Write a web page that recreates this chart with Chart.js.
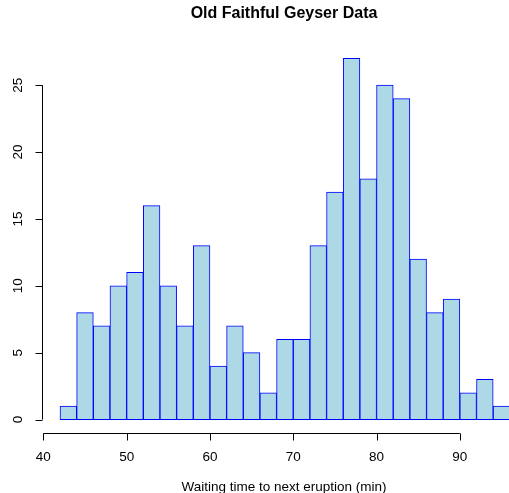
<!DOCTYPE html>
<html>
<head>
<meta charset="utf-8">
<script src="https://cdn.jsdelivr.net/npm/chart.js@4.4.1/dist/chart.umd.min.js"></script>
<style>
  html, body { margin: 0; padding: 0; background: #fff; }
  canvas { display: block; }
</style>
</head>
<body>
<canvas id="hist" width="509" height="493"></canvas>
<script>
// histogram bins (left edges, width 2) and counts
const binStarts = [42, 44, 46, 48, 50, 52, 54, 56, 58, 60, 62, 64, 66, 68, 70, 72, 74, 76, 78, 80, 82, 84, 86, 88, 90, 92, 94];
const counts = [1, 8, 7, 10, 11, 16, 10, 7, 13, 4, 7, 5, 2, 6, 6, 13, 17, 27, 18, 25, 24, 12, 8, 9, 2, 3, 1];
const binWidth = 2;
const xTicks = [40, 50, 60, 70, 80, 90];
const yTicks = [0, 5, 10, 15, 20, 25];
const chartTitle = 'Old Faithful Geyser Data';
const xTitle = 'Waiting time to next eruption (min)';

const FONT = '"Liberation Sans", Arial, Helvetica, sans-serif';

// R-style detached axes, drawn from the chart's own scales
const rAxes = {
  id: 'rAxes',
  afterDraw(chart) {
    const ctx = chart.ctx;
    const xs = chart.scales.x;
    const ys = chart.scales.y;
    const area = chart.chartArea;
    ctx.save();
    ctx.strokeStyle = '#000';
    ctx.fillStyle = '#000';
    ctx.lineWidth = 1;

    // x axis
    const xAxisY = Math.round(area.bottom) - 0.5;
    ctx.beginPath();
    ctx.moveTo(xs.getPixelForValue(xTicks[0]), xAxisY);
    ctx.lineTo(xs.getPixelForValue(xTicks[xTicks.length - 1]), xAxisY);
    xTicks.forEach(v => {
      const px = Math.round(xs.getPixelForValue(v)) + 0.5;
      ctx.moveTo(px, xAxisY);
      ctx.lineTo(px, xAxisY + 7);
    });
    ctx.stroke();
    ctx.font = '13.5px ' + FONT;
    ctx.textAlign = 'center';
    ctx.textBaseline = 'middle';
    xTicks.forEach(v => {
      ctx.fillText(String(v), xs.getPixelForValue(v), xAxisY + 24);
    });

    // y axis
    const yAxisX = Math.round(area.left) + 0.5;
    ctx.beginPath();
    ctx.moveTo(yAxisX, ys.getPixelForValue(yTicks[0]));
    ctx.lineTo(yAxisX, ys.getPixelForValue(yTicks[yTicks.length - 1]));
    yTicks.forEach(v => {
      const py = Math.round(ys.getPixelForValue(v)) + 0.5;
      ctx.moveTo(yAxisX, py);
      ctx.lineTo(yAxisX - 7, py);
    });
    ctx.stroke();
    yTicks.forEach(v => {
      ctx.save();
      ctx.translate(yAxisX - 24, ys.getPixelForValue(v));
      ctx.rotate(-Math.PI / 2);
      ctx.fillText(String(v), 0, 0);
      ctx.restore();
    });

    // titles
    ctx.fillText(xTitle, 284, 487);
    ctx.font = 'bold 16px ' + FONT;
    ctx.fillText(chartTitle, 284, 14);
    ctx.restore();
  }
};

new Chart(document.getElementById('hist'), {
  type: 'bar',
  data: {
    datasets: [{
      data: binStarts.map((s, i) => ({ x: s + binWidth / 2, y: counts[i] })),
      backgroundColor: '#ADD8E6',
      borderColor: '#0000FF',
      borderWidth: 1,
      borderSkipped: false,
      barPercentage: 1,
      categoryPercentage: 1
    }]
  },
  options: {
    responsive: false,
    animation: false,
    layout: { padding: { left: 42, right: 0, top: 44, bottom: 59 } },
    plugins: {
      legend: { display: false },
      tooltip: { enabled: false },
      title: { display: false }
    },
    scales: {
      x: {
        type: 'linear',
        display: false,
        offset: false,
        min: 39.84,
        max: 95.9,
        ticks: { stepSize: 10, includeBounds: false }
      },
      y: {
        display: false,
        min: -1.08,
        max: 28.08,
        ticks: { stepSize: 5, includeBounds: false }
      }
    }
  },
  plugins: [rAxes]
});
</script>
</body>
</html>
